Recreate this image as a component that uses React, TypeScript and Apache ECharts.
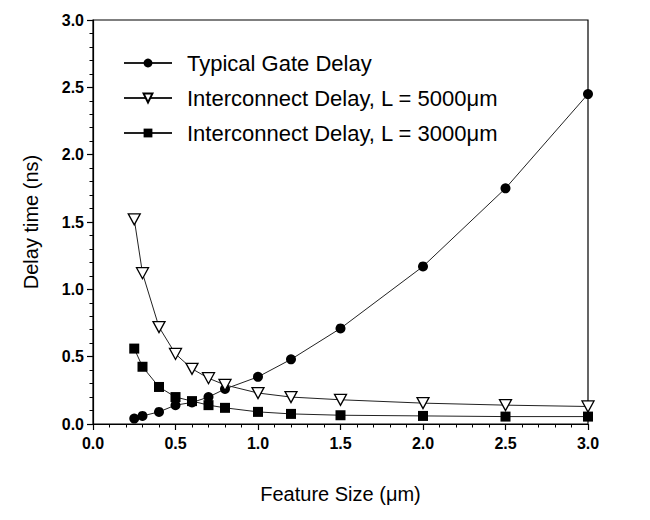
import React, { useEffect, useRef } from "react";
import * as echarts from "echarts";

const featureSize = [0.25, 0.3, 0.4, 0.5, 0.6, 0.7, 0.8, 1.0, 1.2, 1.5, 2.0, 2.5, 3.0];
const gateDelay = [0.04, 0.06, 0.09, 0.14, 0.16, 0.2, 0.26, 0.35, 0.48, 0.71, 1.17, 1.75, 2.45];
const inter5000 = [1.52, 1.12, 0.72, 0.52, 0.41, 0.34, 0.29, 0.23, 0.2, 0.18, 0.155, 0.14, 0.13];
const inter3000 = [0.56, 0.425, 0.275, 0.2, 0.17, 0.14, 0.12, 0.09, 0.075, 0.065, 0.06, 0.055, 0.055];

const seriesNames = [
  "Typical Gate Delay",
  "Interconnect Delay, L = 5000\u03bcm",
  "Interconnect Delay, L = 3000\u03bcm",
];

const pairs = (ys: number[]) => featureSize.map((x, i) => [x, ys[i]]);

const FONT = "Liberation Sans, Arial, sans-serif";

export default function App() {
  const ref = useRef<HTMLDivElement>(null);
  useEffect(() => {
    if (!ref.current) return;
    const chart = echarts.init(ref.current, undefined, { renderer: "svg" });
    const axisCommon = {
      min: 0,
      max: 3,
      interval: 0.5,
      nameLocation: "middle" as const,
      axisLine: { show: true, lineStyle: { color: "#000", width: 1.2 } },
      axisTick: { show: true, inside: false, length: 6, lineStyle: { color: "#000", width: 1.2 } },
      minorTick: { show: true, splitNumber: 5, length: 3.5, lineStyle: { color: "#000", width: 1 } },
      splitLine: { show: false },
      axisLabel: {
        color: "#000",
        fontSize: 16,
        fontFamily: FONT,
        fontWeight: "bold" as const,
        formatter: (v: number) => v.toFixed(1),
      },
      nameTextStyle: { color: "#000", fontSize: 20, fontFamily: FONT },
    };
    chart.setOption({
      animation: false,
      backgroundColor: "#fff",
      grid: {
        left: 93,
        right: 62,
        top: 20,
        bottom: 96,
        show: true,
        borderColor: "#000",
        borderWidth: 1.2,
      },
      legend: {
        orient: "vertical",
        left: 118,
        top: 47,
        itemWidth: 48,
        itemHeight: 11,
        itemGap: 13,
        textStyle: { color: "#000", fontSize: 22, fontFamily: FONT, padding: [0, 0, 0, 10] },
        data: seriesNames,
      },
      xAxis: {
        ...axisCommon,
        type: "value",
        name: "Feature Size (\u03bcm)",
        nameGap: 60,
        axisLabel: { ...axisCommon.axisLabel, margin: 11 },
      },
      yAxis: {
        ...axisCommon,
        type: "value",
        name: "Delay time (ns)",
        nameGap: 52,
        axisLabel: { ...axisCommon.axisLabel, margin: 9 },
      },
      series: [
        {
          name: seriesNames[0],
          type: "line",
          data: pairs(gateDelay),
          symbol: "circle",
          symbolSize: 10,
          itemStyle: { color: "#000" },
          lineStyle: { color: "#222", width: 1 },
        },
        {
          name: seriesNames[1],
          type: "line",
          data: pairs(inter5000),
          symbol: "path://M0,0 L10,0 L5,9 Z",
          symbolSize: [12, 11],
          itemStyle: { color: "#fff", borderColor: "#000", borderWidth: 1.3 },
          lineStyle: { color: "#222", width: 1 },
        },
        {
          name: seriesNames[2],
          type: "line",
          data: pairs(inter3000),
          symbol: "rect",
          symbolSize: 10,
          itemStyle: { color: "#000" },
          lineStyle: { color: "#222", width: 1 },
        },
      ],
    });
    return () => chart.dispose();
  }, []);
  return (
    <div
      ref={ref}
      style={{ position: "fixed", left: 0, top: 0, width: 650, height: 520, background: "#fff" }}
    />
  );
}
